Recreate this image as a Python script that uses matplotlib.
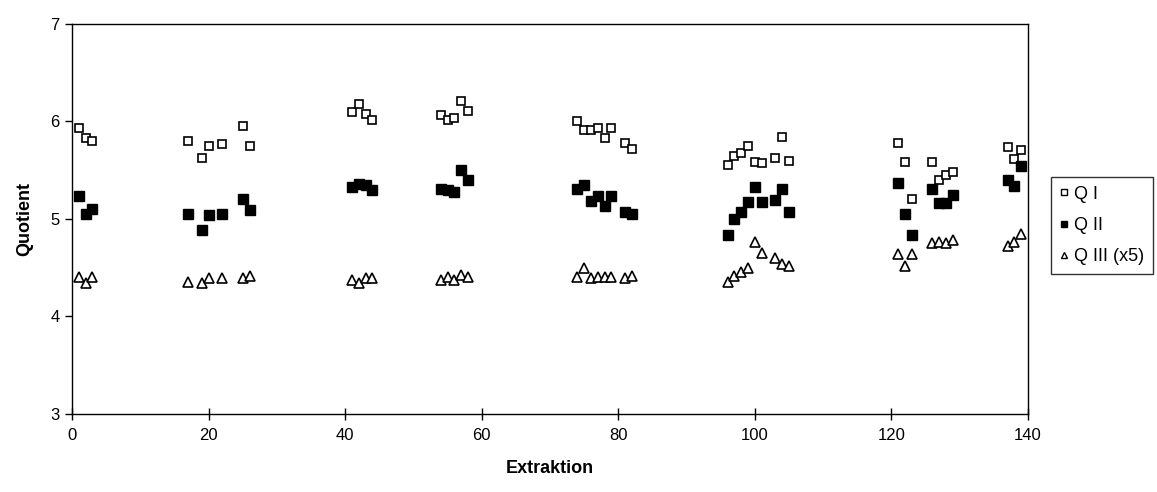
import matplotlib
matplotlib.use("Agg")
import matplotlib.pyplot as plt
from matplotlib.lines import Line2D

plt.rcParams['font.family'] = ['Liberation Sans', 'DejaVu Sans']

extraktion = [1, 2, 3,
              17, 19, 20, 22, 25, 26,
              41, 42, 43, 44,
              54, 55, 56, 57, 58,
              74, 75, 76, 77, 78, 79, 81, 82,
              96, 97, 98, 99, 100, 101, 103, 104, 105,
              121, 122, 123, 126, 127, 128, 129,
              137, 138, 139]

q1 = [5.93, 5.83, 5.80,
      5.80, 5.63, 5.75, 5.77, 5.95, 5.75,
      6.10, 6.18, 6.08, 6.02,
      6.07, 6.02, 6.04, 6.21, 6.11,
      6.01, 5.91, 5.91, 5.93, 5.83, 5.93, 5.78, 5.72,
      5.55, 5.65, 5.68, 5.75, 5.58, 5.57, 5.63, 5.84, 5.60,
      5.78, 5.58, 5.21, 5.58, 5.40, 5.45, 5.48,
      5.74, 5.62, 5.71]

q2 = [5.24, 5.05, 5.10,
      5.05, 4.89, 5.04, 5.05, 5.21, 5.09,
      5.33, 5.36, 5.35, 5.30,
      5.31, 5.30, 5.28, 5.50, 5.40,
      5.31, 5.35, 5.18, 5.24, 5.13, 5.24, 5.07, 5.05,
      4.84, 5.00, 5.07, 5.17, 5.33, 5.17, 5.19, 5.31, 5.07,
      5.37, 5.05, 4.84, 5.31, 5.16, 5.16, 5.25,
      5.40, 5.34, 5.54]

q3x5 = [4.40, 4.34, 4.40,
        4.35, 4.34, 4.39, 4.39, 4.39, 4.42,
        4.37, 4.34, 4.39, 4.39,
        4.37, 4.40, 4.37, 4.43, 4.41,
        4.41, 4.50, 4.39, 4.40, 4.40, 4.40, 4.39, 4.42,
        4.35, 4.42, 4.46, 4.50, 4.76, 4.65, 4.60, 4.54, 4.52,
        4.64, 4.52, 4.64, 4.75, 4.76, 4.75, 4.78,
        4.72, 4.76, 4.85]

labels = ["Q I", "Q II", "Q III (x5)"]
xticks = [0, 20, 40, 60, 80, 100, 120, 140]
yticks = [3, 4, 5, 6, 7]

fig = plt.figure(figsize=(11.57, 4.92), dpi=100)
ax = fig.add_axes([72/1157, 1-414/492, (1028-72)/1157, (414-24)/492])

ax.plot(extraktion, q1, linestyle='none', marker='s', markersize=6.2,
        markerfacecolor='white', markeredgecolor='black', markeredgewidth=1.2)
ax.plot(extraktion, q2, linestyle='none', marker='s', markersize=6.5,
        markerfacecolor='black', markeredgecolor='black', markeredgewidth=1.0)
ax.plot(extraktion, q3x5, linestyle='none', marker='^', markersize=6.5,
        markerfacecolor='white', markeredgecolor='black', markeredgewidth=1.2)

ax.set_xlim(0, 140)
ax.set_ylim(3, 7)
ax.set_xticks(xticks)
ax.set_yticks(yticks)
ax.tick_params(axis='x', direction='inout', length=8, width=1, labelsize=12, pad=6)
ax.tick_params(axis='y', direction='out', length=5, width=1, labelsize=12, pad=4)
for s in ax.spines.values():
    s.set_color('black')
    s.set_linewidth(1.0)

ax.set_xlabel("Extraktion", fontsize=13, fontweight='bold', labelpad=12)
ax.set_ylabel("Quotient", fontsize=13, fontweight='bold', labelpad=12)

handles = [
    Line2D([], [], linestyle='none', marker='s', markersize=5, markerfacecolor='white',
           markeredgecolor='black', markeredgewidth=1.0),
    Line2D([], [], linestyle='none', marker='s', markersize=5, markerfacecolor='black',
           markeredgecolor='black'),
    Line2D([], [], linestyle='none', marker='^', markersize=5, markerfacecolor='white',
           markeredgecolor='black', markeredgewidth=1.0),
]
leg = fig.legend(handles, labels, loc='center left',
                 bbox_to_anchor=(1051/1157, 1-225.5/492, 102/1157, 0.0),
                 mode='expand', fontsize=13, frameon=True, fancybox=False,
                 edgecolor='black', handlelength=0.5, handletextpad=0.3,
                 borderpad=0.45, labelspacing=0.8, borderaxespad=0)
leg.get_frame().set_linewidth(1.0)

fig.savefig("out.png", dpi=100)
